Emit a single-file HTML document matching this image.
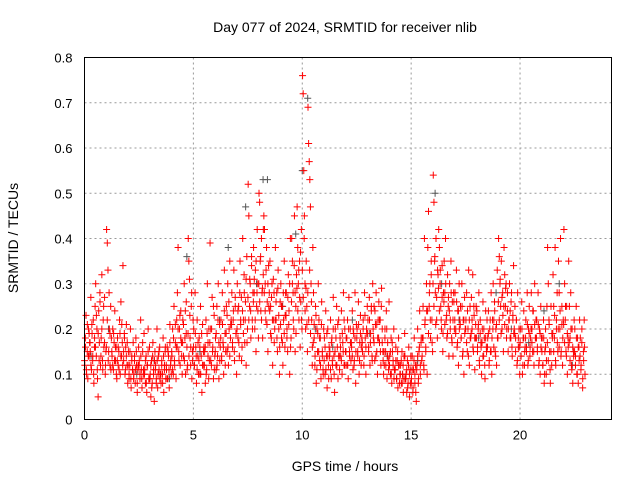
<!DOCTYPE html>
<html><head><meta charset="utf-8"><style>
html,body{margin:0;padding:0;background:#fff;}
svg{display:block;font-family:"Liberation Sans",sans-serif;}
</style></head><body>
<svg id="chart" width="640" height="480" viewBox="0 0 640 480">
<rect width="640" height="480" fill="#fff"/>
<text x="345" y="32" font-size="14" text-anchor="middle">Day 077 of 2024, SRMTID for receiver nlib</text>
<g id="grid"></g>
<g id="xticks"></g>
<g id="yticks"></g>
<g id="gray"></g>
<g id="red"></g>
<rect x="84.5" y="57.5" width="527" height="362" fill="none" stroke="#000" stroke-width="1"/>
<text x="345" y="471" font-size="14" text-anchor="middle">GPS time / hours</text>
<text transform="translate(18,238) rotate(-90)" font-size="14" text-anchor="middle">SRMTID / TECUs</text>
</svg>
<script>
const xTicks = [0,5,10,15,20];
const yTicks = [0,0.1,0.2,0.3,0.4,0.5,0.6,0.7,0.8];
const yTickLabels = ["0","0.1","0.2","0.3","0.4","0.5","0.6","0.7","0.8"];
const binWidth = 0.25;
// red series: bin start hours and SRMTID values (hundredths of TECU)
const redBinStart = [0,0.25,0.5,0.75,1,1.25,1.5,1.75,2,2.25,2.5,2.75,3,3.25,3.5,3.75,4,4.25,4.5,4.75,5,5.25,5.5,5.75,6,6.25,6.5,6.75,7,7.25,7.5,7.75,8,8.25,8.5,8.75,9,9.25,9.5,9.75,10,10.25,10.5,10.75,11,11.25,11.5,11.75,12,12.25,12.5,12.75,13,13.25,13.5,13.75,14,14.25,14.5,14.75,15,15.25,15.5,15.75,16,16.25,16.5,16.75,17,17.25,17.5,17.75,18,18.25,18.5,18.75,19,19.25,19.5,19.75,20,20.25,20.5,20.75,21,21.25,21.5,21.75,22,22.25,22.5,22.75];
const redValues = [
[12,18,23,10,15,9,20,14,17],[15,27,11,19,13,22,8,16,25],[30,14,20,9,5,24,17,28,12],[18,32,13,22,16,27,10,15],
[42,39,33,15,20,12,25,18],[14,20,11,17,24,13,16,9],[18,12,15,22,10,26,14,17],[34,13,19,10,16,21,12,8],
[15,9,12,20,7,13,11,17],[10,14,8,18,12,6,11,16],[13,9,22,11,7,15,10,19],[11,8,14,6,12,20,9,16],
[10,5,13,8,17,11,4,15],[12,9,20,7,14,11,16,10],[8,13,10,18,6,12,15,9],[11,16,9,14,7,21,12,10],
[14,20,10,25,12,17,9,22],[28,38,15,20,12,24,17,10],[22,14,30,18,10,26,16,12],[40,35,31,18,12,25,9,15,22],
[20,12,28,16,8,22,14,10],[18,10,25,14,6,21,12,16],[15,8,22,11,30,17,9,13],[39,20,12,27,16,9,23,14],
[18,11,25,14,30,9,21,16],[22,13,28,17,10,33,19,15],[25,15,30,12,20,35,18,22],[28,16,22,33,13,25,19,10],
[30,18,25,14,35,21,27,16],[40,22,32,17,26,12,36,20],[52,45,25,30,18,34,22,28],[38,28,20,33,15,25,42,30,18],
[50,48,35,24,40,28,18,32,45],[42,30,22,38,26,15,34,28],[35,25,18,30,12,22,28,20],[38,22,28,15,33,20,10,26],
[30,18,25,12,22,35,16,28],[28,20,15,32,24,10,40,18],[40,35,28,20,45,15,25,32],[47,38,30,22,35,16,26,42,20],
[76,72,55,45,30,20,35,25,15],[69,61,57,53,47,30,22,12,38],[28,18,12,25,8,20,15,30],[22,13,18,9,26,15,11,20],
[18,10,24,14,7,20,12,16],[15,22,9,18,12,27,14,6],[20,12,25,16,9,22,14,18],[14,24,10,17,28,12,20,15],
[18,12,22,9,27,15,20,13],[16,24,11,19,13,28,8,21],[20,14,26,10,17,23,12,18],[15,22,12,28,18,10,20,25],
[22,16,27,12,19,25,14,30],[18,25,13,21,28,15,10,22],[26,17,22,12,29,20,15,10],[12,20,15,24,9,17,13,26],
[14,10,18,8,15,12,20,11],[11,16,9,13,7,18,12,10],[12,8,15,10,6,14,19,9],[10,6,13,8,16,5,11,14],
[9,14,6,11,18,8,12,4],[12,20,8,15,24,10,17,13],[18,25,12,40,22,15,30,10],[38,46,25,30,18,35,22,15],
[54,48,35,28,40,22,18,32],[42,38,30,25,20,34,15,28],[35,28,40,22,18,32,25,14],[30,22,35,18,26,14,28,20],
[28,20,33,16,24,12,30,22],[25,18,30,14,22,10,27,20],[22,28,15,20,33,12,25,18],[27,20,32,15,23,11,18,25],
[24,16,20,28,12,22,17,10],[20,26,14,18,9,24,16,22],[18,24,12,20,15,28,10,22],[30,22,26,15,20,12,33,18],
[40,36,30,25,35,20,28,15],[38,32,25,30,20,28,15,22],[30,24,18,28,14,22,34,20],[25,18,22,12,28,16,20,10],
[20,14,26,10,18,24,12,16],[22,16,28,12,20,25,14,18],[28,20,15,24,12,30,18,22],[22,16,28,12,20,10,25,18],
[18,12,22,8,15,20,10,25],[38,30,22,15,8,25,12,18],[32,25,18,38,12,22,28,15],[35,28,20,40,15,25,12,22],
[42,30,22,15,25,10,18,35],[25,18,28,12,20,8,15,22],[20,14,25,10,18,8,16,22],[18,12,20,7,15,22,10]
];
// additional red samples (second receiver-satellite pass), same bins
const redValuesB = [
[13,16,11,21,14,19],[17,12,21,14,10,18],[16,23,11,19,13,26],[14,20,11,25,17,12],
[16,22,13,28,19,11],[15,12,19,13,16,10],[13,16,11,19,14,21],[12,15,18,11,14,17],
[12,10,15,9,14,11],[9,13,11,15,8,12],[12,10,14,9,17,11],[10,13,8,12,15,9],
[9,12,7,14,10,13],[11,8,13,10,15,9],[10,12,8,14,11,16],[12,9,15,11,17,13],
[15,11,18,13,21,16],[16,20,13,23,18,14],[17,21,13,24,19,11],[19,14,23,16,28,13],
[16,12,19,14,11,17],[13,16,10,19,12,15],[12,16,10,19,14,20],[17,13,20,15,25,11],
[15,19,12,22,17,13],[18,14,21,16,24,12],[19,23,16,26,14,21],[21,17,24,15,27,19],
[20,24,17,28,22,13],[24,19,28,22,31,17],[27,22,31,24,36,20],[26,31,22,35,28,24],
[30,26,36,22,29,42],[28,24,33,21,30,25],[24,19,27,22,31,17],[22,26,18,29,23,16],
[21,25,17,28,19,23],[23,18,27,21,30,16],[26,30,22,34,28,19],[29,24,33,27,37,22],
[33,27,40,24,29,21],[28,22,33,19,26,16],[17,21,14,23,11,19],[15,18,12,21,14,10],
[13,16,11,19,14,9],[14,11,17,13,20,10],[15,18,12,21,14,11],[16,13,19,15,22,12],
[15,18,12,20,14,17],[17,14,20,12,18,15],[18,15,21,13,19,16],[17,20,14,23,16,19],
[19,15,22,17,24,13],[20,17,24,14,21,18],[18,22,15,25,17,13],[15,18,12,20,14,11],
[12,15,10,17,13,9],[11,13,9,15,12,8],[10,13,8,12,9,14],[9,11,7,12,10,8],
[8,11,7,13,10,6],[11,14,9,16,12,18],[14,18,11,21,16,24],[24,19,28,22,32,17],
[30,25,36,21,27,33],[29,24,33,22,27,19],[26,21,30,23,19,27],[24,20,28,17,22,26],
[22,19,26,17,24,20],[21,18,25,15,22,19],[20,17,24,14,22,18],[19,22,16,25,18,21],
[18,15,21,13,19,16],[17,14,20,12,18,15],[16,19,13,22,15,18],[20,16,24,14,21,18],
[26,22,31,19,27,23],[25,21,29,18,24,20],[22,18,26,16,23,19],[19,15,22,13,18,16],
[17,14,20,12,18,15],[18,15,21,13,19,16],[20,17,24,15,21,18],[18,15,21,13,19,16],
[15,12,18,10,16,13],[17,13,21,11,15,19],[19,15,23,13,20,17],[20,16,24,14,21,18],
[21,17,25,14,19,16],[17,13,20,11,16,14],[15,12,18,10,16,13],[14,11,17,9,13,16]
];
// gray series
const grayHours = [0.3,1.1,2.4,3.2,3.9,4.7,5.3,6.2,6.6,7.4,7.9,8.2,8.4,9.1,9.7,10.0,10.25,10.6,11.4,12.3,13.1,13.9,14.6,15.3,16.1,16.4,17.2,18.1,18.9,19.6,20.4,21.1,21.8,22.4];
const grayValues = [0.14,0.2,0.1,0.13,0.09,0.36,0.15,0.22,0.38,0.47,0.3,0.53,0.53,0.25,0.41,0.55,0.71,0.2,0.16,0.22,0.19,0.14,0.1,0.13,0.5,0.3,0.22,0.18,0.28,0.2,0.17,0.24,0.3,0.12];

const X0=84.5, X1=611.5, Y0=419.5, Y1=57.5, XMAX=24.2, YMAX=0.8;
function xs(h){return X0+(X1-X0)*h/XMAX;}
function ys(v){return Y0-(Y0-Y1)*v/YMAX;}
const NS="http://www.w3.org/2000/svg";
const grid=document.getElementById('grid'), xg=document.getElementById('xticks'), yg=document.getElementById('yticks');
function mk(tag,attrs,parent){const e=document.createElementNS(NS,tag);for(const k in attrs)e.setAttribute(k,attrs[k]);parent.appendChild(e);return e;}
xTicks.forEach(t=>{
  const x=xs(t);
  if(t>0){const l=mk('line',{x1:x,x2:x,y1:Y0,y2:Y1,stroke:'#999','stroke-dasharray':'2,3'},grid);
  
  }
  const tk=mk('text',{x:x,y:Y0+20,'font-size':13,'text-anchor':'middle'},xg);
  tk.textContent=t;
  
  
});
yTicks.forEach((t,i)=>{
  const y=ys(t);
  if(i>0&&i<yTicks.length-1){const l=mk('line',{x1:X0,x2:X1,y1:y,y2:y,stroke:'#999','stroke-dasharray':'2,3'},grid);
  
  }
  const tk=mk('text',{x:X0-12,y:y+5,'font-size':13,'text-anchor':'end'},yg);
  tk.textContent=yTickLabels[i];
  
  
});
function plus(h,v,color,parent){
  const x=xs(h), y=ys(v);
  return mk('path',{d:`M${x-3.5},${y}h7M${x},${y-3.5}v7`,stroke:color,'stroke-width':1,fill:'none'},parent);
}
const gg=document.getElementById('gray'), rg=document.getElementById('red');
grayHours.forEach((h,i)=>{
  const p=plus(h,grayValues[i],'#555',gg);
  
  
});
redBinStart.forEach((t,i)=>{
  const vals=redValues[i];
  vals.forEach((v,j)=>{
    const p=plus(t+binWidth*(j+0.5)/vals.length,v/100,'#f00',rg);
    
    
  });
  const valsB=redValuesB[i];
  valsB.forEach((v,j)=>{
    const p=plus(t+binWidth*(j+0.1)/valsB.length,v/100,'#f00',rg);
    
    
  });
});
</script>
</body></html>
